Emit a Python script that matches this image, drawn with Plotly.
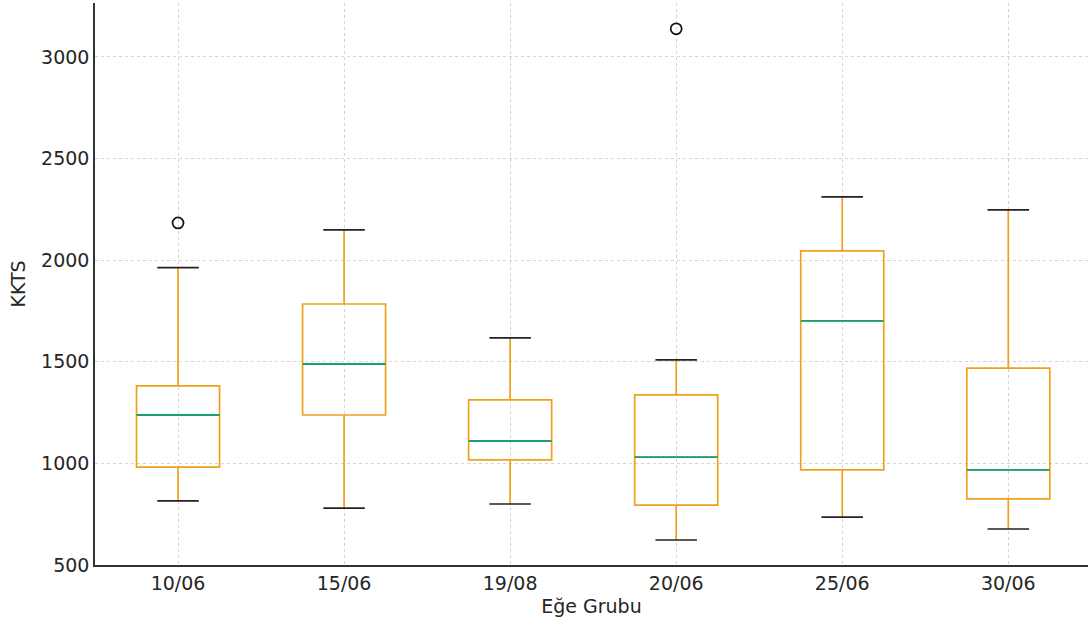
import plotly.graph_objects as go

categories = ["10/06", "15/06", "19/08", "20/06", "25/06", "30/06"]
lower_whisker = [815, 780, 800, 623, 736, 677]
q1 = [982, 1238, 1017, 795, 968, 825]
median = [1238, 1489, 1110, 1031, 1701, 968]
q3 = [1381, 1784, 1312, 1337, 2045, 1469]
upper_whisker = [1963, 2149, 1617, 1509, 2311, 2247]
outlier_group = ["10/06", "20/06"]
outlier_value = [2183, 3138]
y_ticks = [500, 1000, 1500, 2000, 2500, 3000]

ORANGE = "#EFA11C"
GREEN = "#1A9E77"
DARK = "#333333"
BOX_W = 0.5
CAP_W = 0.25

idx = {c: i for i, c in enumerate(categories)}
fig = go.Figure()

for i, c in enumerate(categories):
    fig.add_trace(go.Box(
        x=[i], q1=[q1[i]], median=[median[i]], q3=[q3[i]],
        lowerfence=[lower_whisker[i]], upperfence=[upper_whisker[i]],
        width=BOX_W, whiskerwidth=0, fillcolor="rgba(0,0,0,0)",
        line=dict(color=ORANGE, width=1.7), boxpoints=False,
        showlegend=False, hoverinfo="skip"))

# medians
mx, my = [], []
for i in range(len(categories)):
    mx += [i - BOX_W / 2, i + BOX_W / 2, None]
    my += [median[i], median[i], None]
fig.add_trace(go.Scatter(x=mx, y=my, mode="lines",
                         line=dict(color=GREEN, width=1.8),
                         showlegend=False, hoverinfo="skip"))

# caps
cx, cy = [], []
for i in range(len(categories)):
    for v in (lower_whisker[i], upper_whisker[i]):
        cx += [i - CAP_W / 2, i + CAP_W / 2, None]
        cy += [v, v, None]
fig.add_trace(go.Scatter(x=cx, y=cy, mode="lines",
                         line=dict(color="#222222", width=1.7),
                         showlegend=False, hoverinfo="skip"))

fig.add_trace(go.Scatter(
    x=[idx[g] for g in outlier_group], y=outlier_value, mode="markers",
    marker=dict(symbol="circle-open", size=11, color="#111111",
                line=dict(width=1.7, color="#111111")),
    showlegend=False, hoverinfo="skip"))

fig.update_layout(
    width=1088, height=628,
    margin=dict(l=95, r=0, t=3, b=63),
    paper_bgcolor="white", plot_bgcolor="white",
    font=dict(family="DejaVu Sans", size=19, color="#262626"),
)
fig.update_xaxes(
    range=[-0.5, 5.48], tickmode="array",
    tickvals=list(range(len(categories))), ticktext=categories,
    showline=True, linecolor=DARK, linewidth=1.5,
    showgrid=True, gridcolor="#d3d3d3", griddash="3px,3px", gridwidth=1,
    ticks="", zeroline=False,
    title=dict(text="Eğe Grubu", standoff=7, font=dict(size=19)),
)
fig.update_yaxes(
    range=[500, 3265], tickmode="array", tickvals=y_ticks,
    showline=True, linecolor=DARK, linewidth=1.5,
    showgrid=True, gridcolor="#d3d3d3", griddash="3px,3px", gridwidth=1,
    ticks="", zeroline=False,
    title=dict(text="KKTS", standoff=10, font=dict(size=19)),
)

fig.write_html("out.html", config={"displayModeBar": False},
               post_script="document.body.style.margin='0';document.body.style.padding='0';")
